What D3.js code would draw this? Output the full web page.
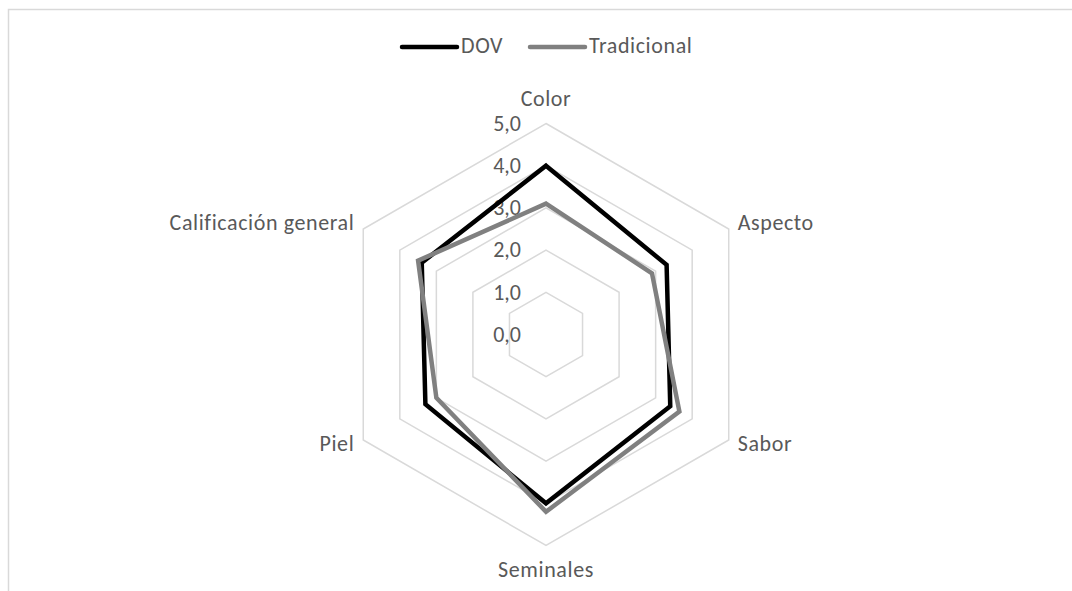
<!DOCTYPE html>
<meta charset="utf-8">
<style>
body { margin: 0; background: #fff; }
svg text { font-family: Carlito, Calibri, Lato, sans-serif; fill: #595959; font-size: 22px; }
.cat, .ley { letter-spacing: 0.6px; }
.grid { fill: none; stroke: #d9d9d9; stroke-width: 1.5; }
.serie { fill: none; stroke-width: 4.5; stroke-linejoin: miter; }
</style>
<svg width="1072" height="591"></svg>
<script src="https://cdn.jsdelivr.net/npm/d3@7"></script>
<script>

// datos
var categorias = ["Color", "Aspecto", "Sabor", "Seminales", "Piel", "Calificación general"];
var dov = [4.0, 3.3, 3.4, 4.0, 3.3, 3.4];
var tradicional = [3.1, 2.9, 3.65, 4.2, 3.0, 3.5];
var marcas = [0, 1, 2, 3, 4, 5];
var series = [
  { nombre: "DOV", valores: dov, color: "#000000" },
  { nombre: "Tradicional", valores: tradicional, color: "#808080" }
];

var svg = d3.select("svg");
var cx = 546, cy = 334.5;

// borde del area del grafico
svg.append("rect")
  .attr("x", 8.5).attr("y", 9.5)
  .attr("width", 1100).attr("height", 700)
  .attr("fill", "none").attr("stroke", "#d9d9d9").attr("stroke-width", 1.5);

var r = d3.scaleLinear().domain([0, 5]).range([0, 211]);
var ang = d3.scaleLinear().domain([0, categorias.length]).range([0, 2 * Math.PI]);

var g = svg.append("g").attr("transform", "translate(" + cx + "," + cy + ")");

var radial = d3.lineRadial()
  .angle(function(d, i) { return ang(i); })
  .radius(function(d) { return r(d); })
  .curve(d3.curveLinearClosed);

// anillos
g.selectAll(".grid")
  .data(marcas.filter(function(m) { return m > 0; }))
  .enter().append("path")
  .attr("class", "grid")
  .attr("d", function(m) { return radial(categorias.map(function() { return m; })); });

// etiquetas de escala
g.selectAll(".tick")
  .data(marcas)
  .enter().append("text")
  .attr("class", "tick")
  .attr("x", -25)
  .attr("y", function(m) { return -r(m) + 2; })
  .attr("text-anchor", "end")
  .attr("dominant-baseline", "middle")
  .text(function(m) { return d3.format(".1f")(m).replace(".", ","); });

// series
g.selectAll(".serie")
  .data(series)
  .enter().append("path")
  .attr("class", "serie")
  .attr("stroke", function(d) { return d.color; })
  .attr("d", function(d) { return radial(d.valores); });

// etiquetas de categorias
g.selectAll(".cat")
  .data(categorias)
  .enter().append("text")
  .attr("class", "cat")
  .attr("x", function(d, i) {
    var a = ang(i), x = Math.sin(a) * r(5);
    if (Math.abs(x) < 1) return 0;
    return x > 0 ? x + 9 : x - 9;
  })
  .attr("y", function(d, i) {
    var a = ang(i), y = -Math.cos(a) * r(5);
    if (i === 0) return y - 23;
    if (i === 3) return y + 26;
    return y + (y < 0 ? -4 : 6);
  })
  .attr("text-anchor", function(d, i) {
    var x = Math.sin(ang(i));
    if (Math.abs(x) < 0.01) return "middle";
    return x > 0 ? "start" : "end";
  })
  .attr("dominant-baseline", "middle")
  .text(function(d) { return d; });

// leyenda
var ley = svg.append("g");
var lx = [402, 530];
series.forEach(function(s, i) {
  ley.append("line")
    .attr("x1", lx[i]).attr("x2", lx[i] + 55)
    .attr("y1", 47).attr("y2", 47)
    .attr("stroke", s.color).attr("stroke-width", 4.5)
    .attr("stroke-linecap", "round");
  ley.append("text")
    .attr("class", "ley")
    .attr("x", lx[i] + 59).attr("y", 48)
    .attr("dominant-baseline", "middle")
    .text(s.nombre);
});

</script>
